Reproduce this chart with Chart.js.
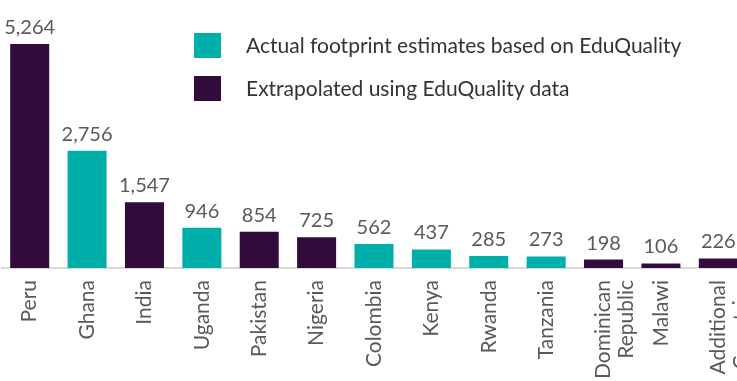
<!DOCTYPE html>
<html>
<head>
<meta charset="utf-8">
<script src="https://cdn.jsdelivr.net/npm/chart.js@4"></script>
<style>
    html, body { margin: 0; padding: 0; background: #fff; }
    body { width: 737px; height: 381px; overflow: hidden; position: relative; font-family: Lato, sans-serif; }
    #wrap { position: absolute; left: 1px; top: 0; width: 746px; height: 430px; }
    .legend { position: absolute; left: 194px; color: #333; font-size: 21px; }
    .legend span.box { position: absolute; left: 0; width: 27px; height: 25px; }
    .legend span.txt { position: absolute; left: 52px; white-space: nowrap; line-height: 25px; }
</style>
</head>
<body>
<div id="wrap"><canvas id="myBarChart"></canvas></div>
<div class="legend" style="top:33px"><span class="box" style="background:#00aeaa"></span><span class="txt" style="top:-1px">Actual footprint estimates based on EduQuality</span></div>
<div class="legend" style="top:76px"><span class="box" style="background:#300b3c"></span><span class="txt" style="top:-1px">Extrapolated using EduQuality data</span></div>
<script>
    const countries = ['Peru', 'Ghana', 'India', 'Uganda', 'Pakistan', 'Nigeria', 'Colombia', 'Kenya', 'Rwanda', 'Tanzania', ['Dominican', 'Republic'], 'Malawi', ['Additional', 'Countries']];
    const footprint = [5264, 2756, 1547, 946, 854, 725, 562, 437, 285, 273, 198, 106, 226];
    // A = actual estimate, E = extrapolated
    const source = ['E', 'A', 'E', 'A', 'E', 'E', 'A', 'A', 'A', 'A', 'E', 'E', 'E'];

    const TEAL = '#00aeaa';
    const PURPLE = '#300b3c';

    const valueLabels = {
        id: 'valueLabels',
        afterDatasetsDraw(chart) {
            const ctx = chart.ctx;
            const meta = chart.getDatasetMeta(0);
            ctx.save();
            ctx.font = '20px Lato';
            ctx.fillStyle = '#595959';
            ctx.textAlign = 'center';
            ctx.textBaseline = 'alphabetic';
            meta.data.forEach((bar, i) => {
                ctx.fillText(footprint[i].toLocaleString('en-US'), bar.x, bar.y - 10);
            });
            ctx.restore();
        }
    };

    const ctx = document.getElementById('myBarChart').getContext('2d');
    const myBarChart = new Chart(ctx, {
        type: 'bar',
        data: {
            labels: countries,
            datasets: [{
                data: footprint,
                backgroundColor: source.map(s => s === 'A' ? TEAL : PURPLE),
                barPercentage: 0.68,
                categoryPercentage: 1
            }]
        },
        options: {
            responsive: true,
            maintainAspectRatio: false,
            animation: false,
            layout: { padding: 0 },
            plugins: {
                legend: { display: false },
                tooltip: { enabled: false }
            },
            scales: {
                x: {
                    grid: { display: false },
                    border: { display: true, color: '#d9d9d9', width: 2 },
                    ticks: {
                        minRotation: 90,
                        maxRotation: 90,
                        autoSkip: false,
                        padding: 4,
                        color: '#595959',
                        font: { family: 'Lato', size: 21, lineHeight: 1.1 }
                    },
                    afterFit(scale) {
                        scale.height = 430 - 268;
                        scale.paddingLeft = 0;
                        scale.paddingRight = 0;
                    }
                },
                y: {
                    display: false,
                    beginAtZero: true,
                    min: 0,
                    max: 6300
                }
            }
        },
        plugins: [valueLabels]
    });
</script>
</body>
</html>
